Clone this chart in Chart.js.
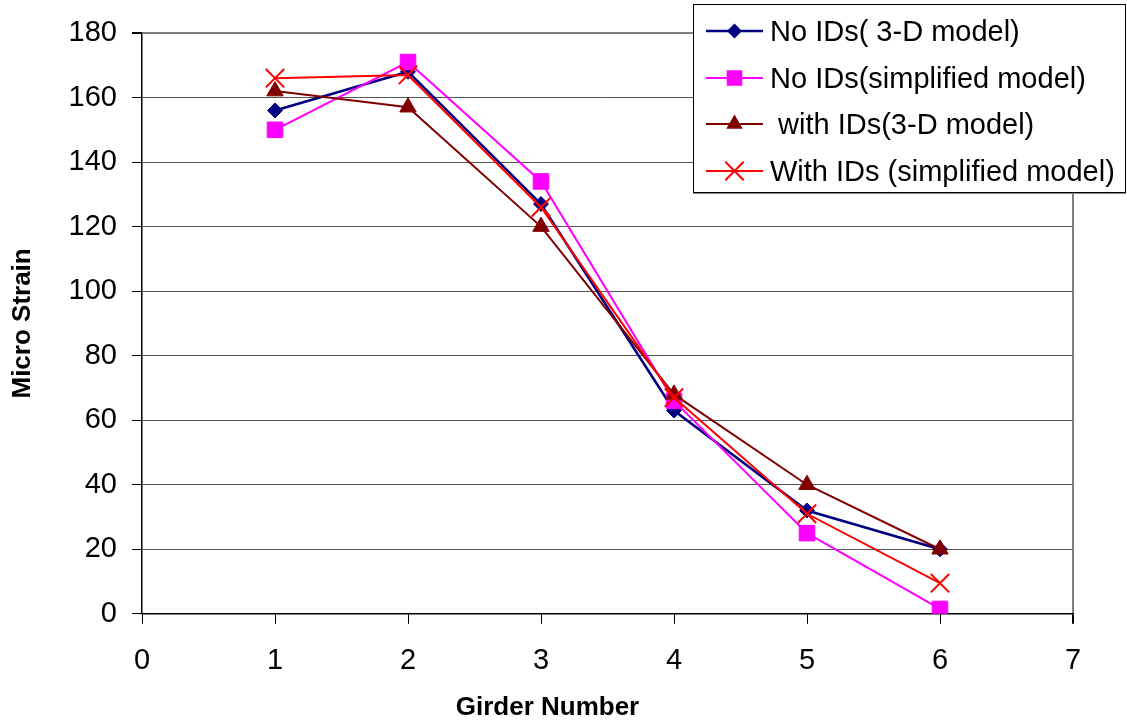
<!DOCTYPE html>
<html>
<head>
<meta charset="utf-8">
<script src="https://cdn.jsdelivr.net/npm/chart.js@4/dist/chart.umd.min.js"></script>
<style>
  html, body { margin: 0; padding: 0; background: #fff; }
  #wrap { position: relative; width: 1127px; height: 725px; }
  #chart { position: absolute; left: 0; top: 0; }
  #legend {
    position: absolute; left: 693px; top: 4px; width: 431px; height: 187px;
    border: 1px solid #000; background: #fff; box-shadow: 0 1px 0 #888;
    font-family: 'Liberation Sans', Arial, sans-serif; font-size: 29px; color: #000;
  }
  .row { position: absolute; left: 0; height: 46px; width: 100%; }
  .row canvas { position: absolute; left: 8px; top: 0; }
  .row span { position: absolute; left: 76px; top: 0; line-height: 46px; white-space: pre; }
</style>
</head>
<body>
<div id="wrap">
  <canvas id="chart" width="1127" height="725"></canvas>
  <div id="legend"></div>
</div>
<script>
// Girder numbers along the x axis
const girders = [1, 2, 3, 4, 5, 6];

// Micro strain per girder for each analysis case
const noIds3D = [156, 168, 127, 63, 32, 20];
const noIdsSimplified = [150, 171, 134, 66, 25, 1.5];
const withIds3D = [162, 157, 120, 68, 40, 20];
const withIdsSimplified = [166, 167, 126, 67, 31, 9.5];

const seriesNames = [
  'No IDs( 3-D model)',
  'No IDs(simplified model)',
  ' with IDs(3-D model)',
  'With IDs (simplified model)'
];

// Axis ranges and tick steps
const xRange = [0, 7];
const yRange = [0, 180];
const xStep = 1;
const yStep = 20;

const FONT = "'Liberation Sans', Arial, sans-serif";

function pts(values) {
  return girders.map((g, i) => ({ x: g, y: values[i] }));
}

const styles = [
  { color: '#000080', pointStyle: 'rectRot', radius: 7.5, lineWidth: 2.5, order: 4 },
  { color: '#FF00FF', pointStyle: 'rect', radius: 11, lineWidth: 2, order: 3 },
  { color: '#800000', pointStyle: 'triangle', radius: 9.5, lineWidth: 2, order: 2 },
  { color: '#FF0000', pointStyle: 'crossRot', radius: 13, lineWidth: 2, order: 1 }
];

const seriesValues = [noIds3D, noIdsSimplified, withIds3D, withIdsSimplified];

const datasets = seriesValues.map((vals, i) => ({
  label: seriesNames[i],
  data: pts(vals),
  borderColor: styles[i].color,
  backgroundColor: styles[i].color,
  borderWidth: styles[i].lineWidth,
  pointStyle: styles[i].pointStyle,
  pointRadius: styles[i].radius,
  pointHoverRadius: styles[i].radius,
  pointBorderWidth: styles[i].pointStyle === 'crossRot' ? 2 : 1,
  pointBorderColor: styles[i].color,
  pointBackgroundColor: styles[i].color,
  tension: 0,
  fill: false,
  order: styles[i].order
}));

new Chart(document.getElementById('chart'), {
  type: 'line',
  data: { datasets },
  options: {
    responsive: false,
    animation: false,
    devicePixelRatio: 1,
    layout: { padding: { top: 33, right: 54, left: 22, bottom: 0 } },
    plugins: {
      legend: { display: false },
      tooltip: { enabled: false },
      title: {
        display: true,
        position: 'bottom',
        text: 'Girder Number',
        color: '#000',
        font: { family: FONT, size: 26, weight: 'bold' },
        padding: { top: 0, bottom: 2 }
      }
    },
    scales: {
      x: {
        type: 'linear',
        min: xRange[0],
        max: xRange[1],
        afterFit: s => { s.height = 78; },
        ticks: {
          stepSize: xStep,
          color: '#000',
          font: { family: FONT, size: 29 },
          padding: 20,
          maxRotation: 0
        },
        grid: {
          drawOnChartArea: true,
          color: c => (c.tick && c.tick.value === xRange[1]) ? '#808080' : 'rgba(0,0,0,0)',
          lineWidth: c => (c.tick && c.tick.value === xRange[1]) ? 2 : 1,
          tickColor: '#000',
          tickLength: 10
        },
        border: { display: true, color: '#000', width: 1.5 }
      },
      y: {
        type: 'linear',
        min: yRange[0],
        max: yRange[1],
        afterFit: s => { s.width = 120; },
        title: {
          display: true,
          text: 'Micro Strain',
          color: '#000',
          font: { family: FONT, size: 26, weight: 'bold' },
          padding: { top: -14.6, bottom: 0 }
        },
        ticks: {
          stepSize: yStep,
          color: '#000',
          font: { family: FONT, size: 29 },
          padding: 15
        },
        grid: {
          color: c => (c.tick && c.tick.value === yRange[1]) ? '#808080' : '#555',
          lineWidth: c => (c.tick && c.tick.value === yRange[1]) ? 2 : 1,
          tickColor: '#000',
          tickLength: 10
        },
        border: { display: true, color: '#000', width: 1.5 }
      }
    }
  }
});

// Legend: line sample with marker, then the series name
function drawMarker(ctx, style, x, y) {
  ctx.fillStyle = style.color;
  ctx.strokeStyle = style.color;
  ctx.beginPath();
  if (style.pointStyle === 'rectRot') {
    const r = style.radius;
    ctx.moveTo(x, y - r); ctx.lineTo(x + r, y); ctx.lineTo(x, y + r); ctx.lineTo(x - r, y);
    ctx.closePath(); ctx.fill();
  } else if (style.pointStyle === 'rect') {
    const h = style.radius * Math.SQRT1_2;
    ctx.rect(x - h, y - h, 2 * h, 2 * h); ctx.fill();
  } else if (style.pointStyle === 'triangle') {
    const r = style.radius;
    for (let k = 0; k < 3; k++) {
      const a = k * 2 * Math.PI / 3;
      const px = x + Math.sin(a) * r, py = y - Math.cos(a) * r;
      if (k === 0) ctx.moveTo(px, py); else ctx.lineTo(px, py);
    }
    ctx.closePath(); ctx.fill();
  } else {
    const d = style.radius * Math.SQRT1_2;
    ctx.lineWidth = 2;
    ctx.moveTo(x - d, y - d); ctx.lineTo(x + d, y + d);
    ctx.moveTo(x + d, y - d); ctx.lineTo(x - d, y + d);
    ctx.stroke();
  }
}

const legend = document.getElementById('legend');
seriesNames.forEach((name, i) => {
  const row = document.createElement('div');
  row.className = 'row';
  row.style.top = (3 + i * 46.5) + 'px';
  const c = document.createElement('canvas');
  c.width = 66; c.height = 46;
  const ctx = c.getContext('2d');
  ctx.strokeStyle = styles[i].color;
  ctx.lineWidth = styles[i].lineWidth;
  ctx.beginPath(); ctx.moveTo(4, 23); ctx.lineTo(61, 23); ctx.stroke();
  drawMarker(ctx, styles[i], 32.5, 23);
  const s = document.createElement('span');
  s.textContent = name;
  row.appendChild(c);
  row.appendChild(s);
  legend.appendChild(row);
});
</script>
</body>
</html>
